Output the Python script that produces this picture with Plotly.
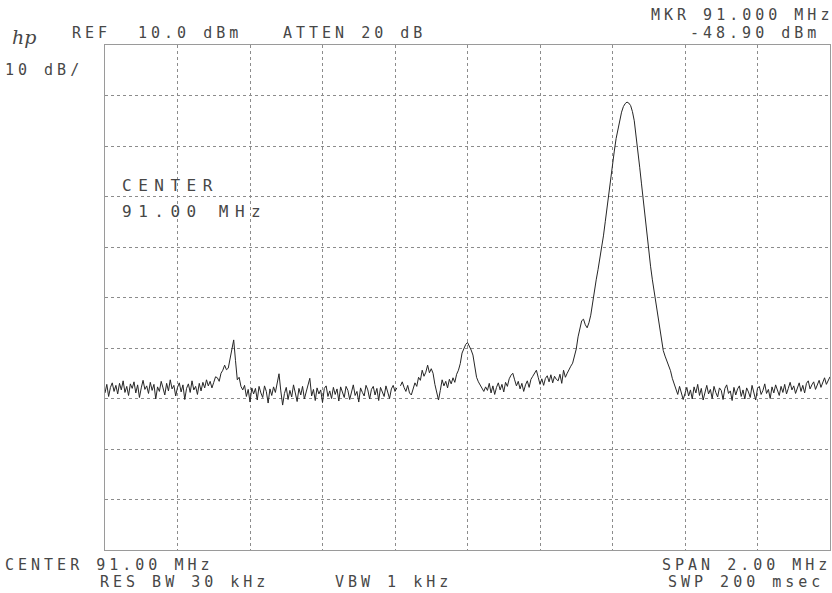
import numpy as np
import plotly.graph_objects as go

# ---- data -------------------------------------------------------------
start_mhz = 90.0
stop_mhz = 92.0

# trace amplitude (dBm), one value per sweep point (401 points)
level_dbm = [
    # 90.000 - 90.275 MHz
    -58.9, -57.2, -59.6, -57.8, -56.9, -58.6, -57.4, -59.1, -57.0, -58.3,
    -56.5, -58.8, -57.6, -59.4, -57.1, -58.0, -56.7, -58.9, -57.3, -59.8,
    -57.9, -56.4, -58.2, -57.5, -59.0, -56.8, -58.4, -57.2, -60.1, -57.7,
    -58.6, -56.6, -57.9, -59.3, -57.0, -58.5, -56.3, -58.1, -57.4, -59.5,
    -57.8, -56.9, -58.7, -57.3, -60.2, -58.0, -57.1, -58.8, -56.5, -58.3,
    -57.6, -59.2, -57.0, -58.5, -56.8, -57.9,
    # small spur near 90.355 MHz
    -56.3, -57.5, -56.6, -57.9, -56.8, -55.7, -55.9, -56.6, -55.0, -54.4,
    -53.4, -54.3, -54.0, -52.0, -50.0, -48.4, -52.5, -56.3, -55.8, -57.6,
    -58.3,
    # 90.385 - 90.805 MHz
    -57.4, -59.6, -58.2, -60.7, -57.9, -59.1, -58.0, -60.3, -57.6, -58.9,
    -59.8, -57.5, -58.6, -60.9, -58.1, -59.4, -57.7, -58.8, -57.2, -55.1,
    -58.5, -61.3, -59.0, -57.8, -60.2, -58.4, -59.7, -57.3, -58.9, -60.6,
    -58.0, -59.3, -57.6, -60.1, -58.7, -57.4, -56.0, -59.5, -58.2, -60.4,
    -57.9, -59.1, -58.3, -60.8, -58.0, -57.5, -59.6, -58.5, -60.0, -57.8,
    -59.2, -58.1, -60.5, -57.7, -58.9, -59.8, -57.6, -58.4, -60.2, -58.7,
    -57.3, -59.4, -58.6, -60.7, -57.9, -58.8, -59.5, -57.4, -58.3, -60.1,
    -58.2, -57.6, -59.3, -58.0, -60.4, -57.8, -58.7, -59.6, -57.5, -58.9,
    -60.0, -58.1, -57.4, -58.6, -57.9,
    # plotter pen gap
    None,
    # 90.815 - 91.050 MHz (hump and centre signal)
    -57.5, -56.7, -57.8, -58.6, -57.4, -58.9, -59.3, -58.0, -56.9, -57.6,
    -55.8, -56.4, -54.4, -55.6, -54.8, -53.4, -54.9, -54.1, -55.0, -57.2,
    -58.8, -60.3, -58.4, -56.3, -57.5, -56.6, -57.9, -56.2, -57.1, -55.9,
    -56.8, -55.2, -54.4, -53.1, -51.0, -50.2, -49.3, -48.9, -49.6, -50.4,
    -51.4, -53.6, -55.8, -56.7, -57.4, -57.9, -58.6, -57.7,
    # 91.055 - 91.245 MHz
    -58.4, -57.0, -58.9, -57.5, -59.2, -57.8, -56.9, -58.3, -57.2, -58.7,
    -56.8, -57.6, -56.1, -55.4, -55.0, -56.3, -57.5, -56.6, -58.1, -57.0,
    -58.6, -57.3, -56.5, -57.8, -56.2, -55.6, -54.9, -54.4, -55.8, -57.2,
    -56.1, -57.4, -56.0, -55.5, -56.7, -55.3, -56.9, -55.6, -56.2,
    # 91.250 - 91.600 MHz (main carrier)
    -56.5, -55.2, -57.0, -54.4, -55.8, -55.0, -54.2, -53.6, -53.0, -51.8,
    -50.2, -47.8, -45.8, -44.6, -44.3, -45.4, -46.0, -45.0, -43.5, -40.8,
    -38.5, -36.5, -34.5, -32.5, -30.5, -27.8, -25.0, -22.0, -19.0, -16.2,
    -13.5, -11.0, -8.5, -6.5, -4.8, -3.3, -2.2, -1.6, -1.3, -1.5,
    -2.0, -3.2, -5.0, -7.8, -11.0, -14.2, -17.5, -21.0, -24.5, -27.8,
    -31.0, -33.8, -36.5, -39.0, -41.5, -43.8, -46.0, -48.4, -50.5, -51.6,
    -52.5, -53.6, -54.5, -56.0, -57.0, -58.4, -59.2, -57.6, -58.8, -60.2,
    -59.0,
    # 91.605 - 92.000 MHz
    -57.8, -59.5, -58.3, -60.1, -57.7, -58.9, -57.2, -59.4, -58.0, -60.3,
    -58.6, -57.4, -59.1, -58.2, -60.0, -57.6, -58.8, -59.7, -57.9, -58.4,
    -60.2, -58.0, -57.3, -59.0, -58.5, -60.4, -57.8, -59.3, -58.1, -57.5,
    -59.6, -58.3, -60.1, -57.9, -58.7, -59.8, -57.4, -58.6, -60.3, -58.0,
    -57.6, -59.2, -58.4, -57.1, -59.0, -58.2, -60.0, -57.7, -58.9, -57.3,
    -58.5, -59.4, -57.6, -58.8, -57.2, -59.1, -58.0, -56.8, -58.3, -57.5,
    -59.0, -57.7, -56.9, -58.6, -57.4, -58.9, -57.0, -56.5, -58.1, -57.3,
    -56.7, -58.2, -57.1, -56.4, -57.8, -56.6, -55.9, -57.2, -56.3, -55.7,
]

# sweep points are evenly spaced across the span
freq_mhz = np.linspace(start_mhz, stop_mhz, len(level_dbm))

ref_level_dbm = 10.0
db_per_div = 10.0
n_divs = 10
freq_per_div = 0.2

# ---- figure -----------------------------------------------------------
FONT = "DejaVu Sans Mono"
INK = "#474747"

fig = go.Figure()
fig.add_trace(go.Scatter(
    x=freq_mhz, y=level_dbm, mode="lines",
    line=dict(color="#262626", width=1),
    connectgaps=False, hoverinfo="skip", showlegend=False,
))

bottom = ref_level_dbm - db_per_div * n_divs
axis_common = dict(
    showgrid=True, gridcolor="#8c8c8c", gridwidth=1, griddash="dot",
    showline=True, linecolor="#9a9a9a", linewidth=1, mirror=True,
    showticklabels=False, ticks="", zeroline=False, fixedrange=True,
)
fig.update_xaxes(range=[start_mhz, stop_mhz], dtick=freq_per_div,
                 tick0=start_mhz, **axis_common)
fig.update_yaxes(range=[bottom, ref_level_dbm], dtick=db_per_div,
                 tick0=bottom, **axis_common)

PL, PR, PT, PB = 105, 830, 45, 550


def px(xp):
    return (xp - PL) / (PR - PL)


def py(yp):
    return (PB - yp) / (PB - PT)


def txt(s, x, y, size=15, ls=4.0):
    fig.add_annotation(
        text=f'<span style="letter-spacing:{ls}px">{s}</span>',
        x=px(x - 2), y=py(y), xref="paper", yref="paper",
        xanchor="left", yanchor="middle", showarrow=False,
        font=dict(family=FONT, size=size, color=INK),
    )


# header
fig.add_annotation(
    text="<i>hp</i>", x=px(10), y=py(37), xref="paper", yref="paper",
    xanchor="left", yanchor="middle", showarrow=False,
    font=dict(family="DejaVu Serif", size=19, color=INK),
)
txt("REF", 72, 33)
txt("10.0 dBm", 138, 33)
txt("ATTEN 20 dB", 283, 33)
txt("10 dB/", 5, 70)
txt("MKR 91.000 MHz", 651, 15)
txt("-48.90 dBm", 690, 33)

# footer
txt("CENTER 91.00 MHz", 5, 565)
txt("RES BW 30 kHz", 100, 582)
txt("VBW 1 kHz", 335, 582)
txt("SPAN 2.00 MHz", 662, 565)
txt("SWP 200 msec", 668, 582)

# inner label
txt("CENTER", 122, 185, size=16, ls=6.5)
txt("91.00 MHz", 122, 212, size=16, ls=6.5)

fig.update_layout(
    width=832, height=593, autosize=False,
    margin=dict(l=PL, r=832 - PR, t=PT, b=593 - PB, pad=0),
    paper_bgcolor="white", plot_bgcolor="white",
    showlegend=False,
)

# remove the browser's default 8px page margin so the figure fills the window
fig.write_html(
    "out.html",
    config={"displayModeBar": False, "staticPlot": True},
    post_script="document.body.style.margin='0';document.body.style.overflow='hidden';",
)
